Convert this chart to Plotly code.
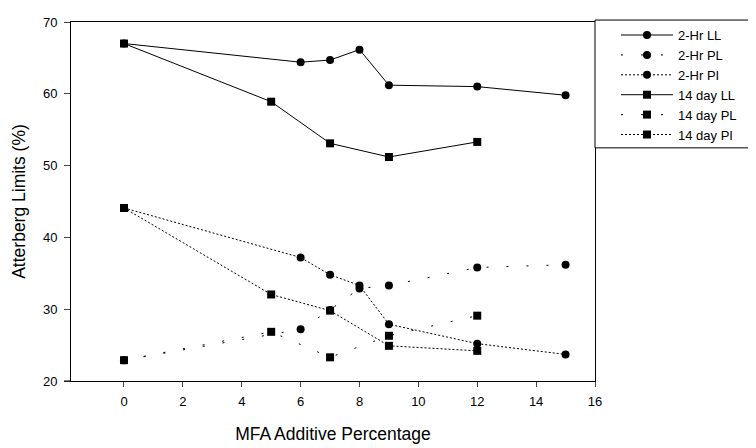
import plotly.graph_objects as go

x_2hr = [0, 6, 7, 8, 9, 12, 15]
ll_2hr = [67.0, 64.4, 64.7, 66.15, 61.2, 61.0, 59.8]
pl_2hr = [22.9, 27.2, 29.9, 32.9, 33.3, 35.8, 36.2]
pi_2hr = [44.1, 37.2, 34.8, 33.3, 27.9, 25.2, 23.7]

x_14d = [0, 5, 7, 9, 12]
ll_14d = [67.0, 58.9, 53.1, 51.2, 53.3]
pl_14d = [22.9, 26.85, 23.3, 26.3, 29.1]
pi_14d = [44.1, 32.05, 29.8, 24.9, 24.2]

x_ticks = list(range(0, 17, 2))
y_ticks = list(range(20, 71, 10))

FONT = "Liberation Sans, Arial, sans-serif"
PL_DASH = "2px,18px"
PI_DASH = "2px,2px"

series = [
    ("2-Hr LL", x_2hr, ll_2hr, "solid", "circle", 8),
    ("2-Hr PL", x_2hr, pl_2hr, PL_DASH, "circle", 8),
    ("2-Hr PI", x_2hr, pi_2hr, PI_DASH, "circle", 8),
    ("14 day LL", x_14d, ll_14d, "solid", "square", 8),
    ("14 day PL", x_14d, pl_14d, PL_DASH, "square", 8),
    ("14 day PI", x_14d, pi_14d, PI_DASH, "square", 8),
]

fig = go.Figure()
for name, xs, ys, dash, sym, sz in series:
    fig.add_trace(go.Scatter(
        x=xs, y=ys, name=name, mode="lines+markers",
        line=dict(color="black", width=1, dash=dash),
        marker=dict(symbol=sym, size=sz, color="black"),
        legendgroup=name,
    ))

# plot area (page px): x 71..595, y 15..383 ; page has an 8px body offset
W, H = 748, 440
fig.update_layout(
    width=W, height=H,
    margin=dict(l=63, r=161, t=7, b=65),
    paper_bgcolor="white", plot_bgcolor="white",
    font=dict(family=FONT, size=13, color="black"),
    showlegend=True,
    legend=dict(
        x=1.0 + 21 / 524, y=1.0054, xanchor="left", yanchor="top",
        bgcolor="rgba(0,0,0,0)", borderwidth=0,
        font=dict(family=FONT, size=13, color="black"),
        tracegroupgap=0, itemwidth=52,
    ),
    xaxis=dict(
        range=[-1.8, 16], tickvals=x_ticks, ticks="outside", ticklen=5,
        showline=True, linecolor="black", linewidth=1, mirror=True,
        showgrid=False, zeroline=False, ticklabelstandoff=3,
        title=dict(text="MFA Additive Percentage", font=dict(size=17.5), standoff=20),
        tickfont=dict(size=13),
    ),
    yaxis=dict(
        range=[20, 70], tickvals=y_ticks, ticks="outside", ticklen=6,
        showline=True, linecolor="black", linewidth=1, mirror=True,
        showgrid=False, zeroline=False, ticklabelstandoff=4,
        title=dict(text="Atterberg Limits (%)", font=dict(size=17.5), standoff=12),
        tickfont=dict(size=13),
    ),
)

# legend box
fig.add_shape(type="rect", xref="paper", yref="paper",
              x0=1.0, x1=1.0 + 160 / 524, y0=1.0 - 129 / 368, y1=1.0054,
              line=dict(color="black", width=1), fillcolor="white", layer="above")
# slight extension of x axis line to the left
fig.add_shape(type="line", xref="paper", yref="paper",
              x0=-7 / 524, x1=0, y0=0, y1=0,
              line=dict(color="black", width=1))

fig.write_html("out.html")
